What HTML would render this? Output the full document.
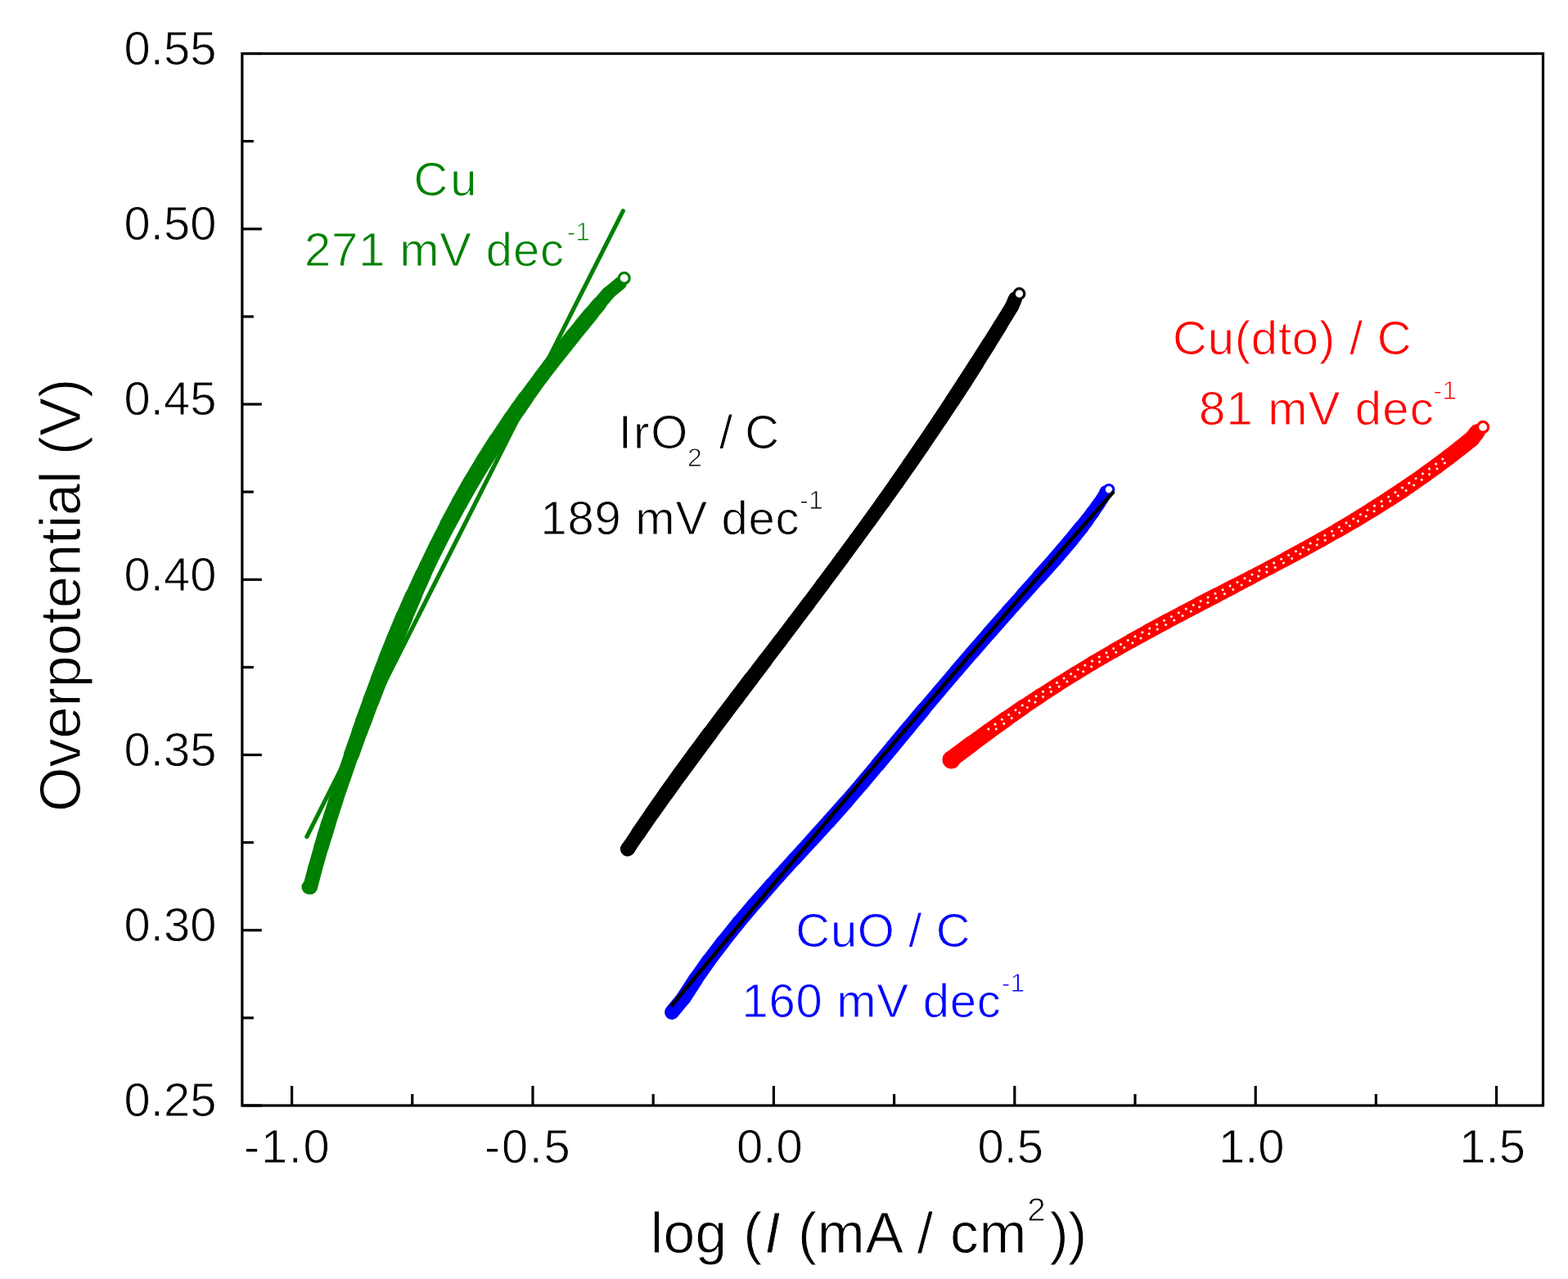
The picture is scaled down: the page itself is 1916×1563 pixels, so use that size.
<!DOCTYPE html>
<html><head><meta charset="utf-8"><style>
html,body{margin:0;padding:0;background:#fff;}
svg{display:block;}
</style></head><body>
<svg width="1916" height="1563" viewBox="0 0 1916 1563">
<rect width="1916" height="1563" fill="#fff"/>
<rect x="295.9" y="65.5" width="1589.6" height="1285.5" fill="none" stroke="#000" stroke-width="3.2"/>
<line x1="356.6" y1="1351.0" x2="356.6" y2="1327.0" stroke="#000" stroke-width="3.2"/>
<line x1="503.8" y1="1351.0" x2="503.8" y2="1337.0" stroke="#000" stroke-width="3.2"/>
<line x1="651.0" y1="1351.0" x2="651.0" y2="1327.0" stroke="#000" stroke-width="3.2"/>
<line x1="798.2" y1="1351.0" x2="798.2" y2="1337.0" stroke="#000" stroke-width="3.2"/>
<line x1="945.4" y1="1351.0" x2="945.4" y2="1327.0" stroke="#000" stroke-width="3.2"/>
<line x1="1092.6" y1="1351.0" x2="1092.6" y2="1337.0" stroke="#000" stroke-width="3.2"/>
<line x1="1239.8" y1="1351.0" x2="1239.8" y2="1327.0" stroke="#000" stroke-width="3.2"/>
<line x1="1387.0" y1="1351.0" x2="1387.0" y2="1337.0" stroke="#000" stroke-width="3.2"/>
<line x1="1534.2" y1="1351.0" x2="1534.2" y2="1327.0" stroke="#000" stroke-width="3.2"/>
<line x1="1681.4" y1="1351.0" x2="1681.4" y2="1337.0" stroke="#000" stroke-width="3.2"/>
<line x1="1828.6" y1="1351.0" x2="1828.6" y2="1327.0" stroke="#000" stroke-width="3.2"/>
<line x1="295.9" y1="1351.0" x2="319.9" y2="1351.0" stroke="#000" stroke-width="3.2"/>
<line x1="295.9" y1="1243.9" x2="309.9" y2="1243.9" stroke="#000" stroke-width="3.2"/>
<line x1="295.9" y1="1136.8" x2="319.9" y2="1136.8" stroke="#000" stroke-width="3.2"/>
<line x1="295.9" y1="1029.6" x2="309.9" y2="1029.6" stroke="#000" stroke-width="3.2"/>
<line x1="295.9" y1="922.5" x2="319.9" y2="922.5" stroke="#000" stroke-width="3.2"/>
<line x1="295.9" y1="815.4" x2="309.9" y2="815.4" stroke="#000" stroke-width="3.2"/>
<line x1="295.9" y1="708.3" x2="319.9" y2="708.3" stroke="#000" stroke-width="3.2"/>
<line x1="295.9" y1="601.1" x2="309.9" y2="601.1" stroke="#000" stroke-width="3.2"/>
<line x1="295.9" y1="494.0" x2="319.9" y2="494.0" stroke="#000" stroke-width="3.2"/>
<line x1="295.9" y1="386.9" x2="309.9" y2="386.9" stroke="#000" stroke-width="3.2"/>
<line x1="295.9" y1="279.8" x2="319.9" y2="279.8" stroke="#000" stroke-width="3.2"/>
<line x1="295.9" y1="172.6" x2="309.9" y2="172.6" stroke="#000" stroke-width="3.2"/>
<line x1="295.9" y1="65.5" x2="319.9" y2="65.5" stroke="#000" stroke-width="3.2"/>
<text x="264.5" y="1364.3" font-size="58" fill="#000" text-anchor="end" font-family="Liberation Sans, Arial, sans-serif" stroke="#fff" stroke-width="0.9"  xml:space="preserve">0.25</text>
<text x="264.5" y="1150.1" font-size="58" fill="#000" text-anchor="end" font-family="Liberation Sans, Arial, sans-serif" stroke="#fff" stroke-width="0.9"  xml:space="preserve">0.30</text>
<text x="264.5" y="935.8" font-size="58" fill="#000" text-anchor="end" font-family="Liberation Sans, Arial, sans-serif" stroke="#fff" stroke-width="0.9"  xml:space="preserve">0.35</text>
<text x="264.5" y="721.6" font-size="58" fill="#000" text-anchor="end" font-family="Liberation Sans, Arial, sans-serif" stroke="#fff" stroke-width="0.9"  xml:space="preserve">0.40</text>
<text x="264.5" y="507.3" font-size="58" fill="#000" text-anchor="end" font-family="Liberation Sans, Arial, sans-serif" stroke="#fff" stroke-width="0.9"  xml:space="preserve">0.45</text>
<text x="264.5" y="293.1" font-size="58" fill="#000" text-anchor="end" font-family="Liberation Sans, Arial, sans-serif" stroke="#fff" stroke-width="0.9"  xml:space="preserve">0.50</text>
<text x="264.5" y="78.8" font-size="58" fill="#000" text-anchor="end" font-family="Liberation Sans, Arial, sans-serif" stroke="#fff" stroke-width="0.9"  xml:space="preserve">0.55</text>
<text x="940.4" y="1421.3" font-size="58" fill="#000" text-anchor="middle" font-family="Liberation Sans, Arial, sans-serif" stroke="#fff" stroke-width="0.9"  xml:space="preserve">0.0</text>
<text x="1234.8" y="1421.3" font-size="58" fill="#000" text-anchor="middle" font-family="Liberation Sans, Arial, sans-serif" stroke="#fff" stroke-width="0.9"  xml:space="preserve">0.5</text>
<text x="1529.2" y="1421.3" font-size="58" fill="#000" text-anchor="middle" font-family="Liberation Sans, Arial, sans-serif" stroke="#fff" stroke-width="0.9"  xml:space="preserve">1.0</text>
<text x="1823.6" y="1421.3" font-size="58" fill="#000" text-anchor="middle" font-family="Liberation Sans, Arial, sans-serif" stroke="#fff" stroke-width="0.9"  xml:space="preserve">1.5</text>
<text x="298.1" y="1421.3" font-size="58" fill="#000" letter-spacing="1.6" font-family="Liberation Sans, Arial, sans-serif" stroke="#fff" stroke-width="0.9"  xml:space="preserve">-1.0</text>
<text x="592.0" y="1421.3" font-size="58" fill="#000" letter-spacing="1.6" font-family="Liberation Sans, Arial, sans-serif" stroke="#fff" stroke-width="0.9"  xml:space="preserve">-0.5</text>
<text x="794.8" y="1530.6" font-size="69.5" fill="#000" letter-spacing="0.35" font-family="Liberation Sans, Arial, sans-serif" stroke="#fff" stroke-width="0.9"  xml:space="preserve">log (</text>
<text x="934.2" y="1530.6" font-size="69.5" fill="#000" font-style="italic" font-family="Liberation Sans, Arial, sans-serif" stroke="#fff" stroke-width="0.9"  xml:space="preserve">I</text>
<text x="974.9" y="1530.6" font-size="69.5" fill="#000" letter-spacing="0.76" font-family="Liberation Sans, Arial, sans-serif" stroke="#fff" stroke-width="0.9"  xml:space="preserve">(mA / cm</text>
<text x="1255.3" y="1492.4" font-size="40.4" fill="#000" font-family="Liberation Sans, Arial, sans-serif" stroke="#fff" stroke-width="0.9"  xml:space="preserve">2</text>
<text x="1282.5" y="1530.6" font-size="69.5" fill="#000" letter-spacing="-0.67" font-family="Liberation Sans, Arial, sans-serif" stroke="#fff" stroke-width="0.9"  xml:space="preserve">))</text>
<text transform="translate(98.3,991.9) rotate(-90)" x="0" y="0" font-size="70" font-family="Liberation Sans, Arial, sans-serif" stroke="#fff" stroke-width="0.9">Overpotential (V)</text>
<text x="505.6" y="238.6" font-size="58" fill="#008000" letter-spacing="2.8" font-family="Liberation Sans, Arial, sans-serif" stroke="#fff" stroke-width="0.9"  xml:space="preserve">Cu</text>
<text x="371.98" y="325.0" font-size="58" fill="#008000" letter-spacing="0.84" font-family="Liberation Sans, Arial, sans-serif" stroke="#fff" stroke-width="0.9"  xml:space="preserve">271 mV dec</text>
<text x="692.71" y="293.5" font-size="32" fill="#008000" font-family="Liberation Sans, Arial, sans-serif" stroke="#fff" stroke-width="0.9"  xml:space="preserve">-1</text>
<text x="755.65" y="548.2" font-size="58" fill="#000" letter-spacing="2.14" font-family="Liberation Sans, Arial, sans-serif" stroke="#fff" stroke-width="0.9"  xml:space="preserve">IrO</text>
<text x="839.9" y="570.4" font-size="32" fill="#000" font-family="Liberation Sans, Arial, sans-serif" stroke="#fff" stroke-width="0.9"  xml:space="preserve">2</text>
<text x="863.2" y="548.2" font-size="58" fill="#000" letter-spacing="-0.4" font-family="Liberation Sans, Arial, sans-serif" stroke="#fff" stroke-width="0.9"  xml:space="preserve"> / C</text>
<text x="660.58" y="653.4" font-size="58" fill="#000" letter-spacing="0.72" font-family="Liberation Sans, Arial, sans-serif" stroke="#fff" stroke-width="0.9"  xml:space="preserve">189 mV dec</text>
<text x="977.31" y="621.7" font-size="32" fill="#000" font-family="Liberation Sans, Arial, sans-serif" stroke="#fff" stroke-width="0.9"  xml:space="preserve">-1</text>
<text x="1432.95" y="433.0" font-size="58" fill="#ff0000" letter-spacing="0.81" font-family="Liberation Sans, Arial, sans-serif" stroke="#fff" stroke-width="0.9"  xml:space="preserve">Cu(dto) / C</text>
<text x="1465.08" y="519.3" font-size="58" fill="#ff0000" letter-spacing="1.17" font-family="Liberation Sans, Arial, sans-serif" stroke="#fff" stroke-width="0.9"  xml:space="preserve">81 mV dec</text>
<text x="1751.51" y="487.7" font-size="32" fill="#ff0000" font-family="Liberation Sans, Arial, sans-serif" stroke="#fff" stroke-width="0.9"  xml:space="preserve">-1</text>
<text x="972.35" y="1157.0" font-size="58" fill="#0000ff" letter-spacing="0.65" font-family="Liberation Sans, Arial, sans-serif" stroke="#fff" stroke-width="0.9"  xml:space="preserve">CuO / C</text>
<text x="906.38" y="1243.3" font-size="58" fill="#0000ff" letter-spacing="0.76" font-family="Liberation Sans, Arial, sans-serif" stroke="#fff" stroke-width="0.9"  xml:space="preserve">160 mV dec</text>
<text x="1223.81" y="1211.7" font-size="32" fill="#0000ff" font-family="Liberation Sans, Arial, sans-serif" stroke="#fff" stroke-width="0.9"  xml:space="preserve">-1</text>
<g stroke="#000" stroke-linecap="round" fill="none"><line x1="1240.5" y1="365.0" x2="1236.5" y2="374.5" stroke-width="17.3"/><line x1="1236.5" y1="374.5" x2="1222.4" y2="397.6" stroke-width="17.2"/><line x1="1222.4" y1="397.6" x2="1208.1" y2="420.6" stroke-width="17.6"/><line x1="1208.1" y1="420.6" x2="1193.6" y2="443.6" stroke-width="17.9"/><line x1="1193.6" y1="443.6" x2="1178.8" y2="466.7" stroke-width="18.3"/><line x1="1178.8" y1="466.7" x2="1163.8" y2="489.7" stroke-width="18.4"/><line x1="1163.8" y1="489.7" x2="1148.6" y2="512.7" stroke-width="18.2"/><line x1="1148.6" y1="512.7" x2="1127.1" y2="544.5" stroke-width="18.1"/><line x1="1127.1" y1="544.5" x2="1111.2" y2="567.6" stroke-width="18.1"/><line x1="1111.2" y1="567.6" x2="1095.2" y2="590.6" stroke-width="17.9"/><line x1="1095.2" y1="590.6" x2="1078.9" y2="613.6" stroke-width="17.6"/><line x1="1078.9" y1="613.6" x2="1062.3" y2="636.7" stroke-width="17.4"/><line x1="1062.3" y1="636.7" x2="1045.5" y2="659.7" stroke-width="17.3"/><line x1="1045.5" y1="659.7" x2="1028.6" y2="682.7" stroke-width="17.4"/><line x1="1028.6" y1="682.7" x2="1005.0" y2="714.5" stroke-width="17.4"/><line x1="1005.0" y1="714.5" x2="987.7" y2="737.6" stroke-width="17.4"/><line x1="987.7" y1="737.6" x2="970.3" y2="760.6" stroke-width="17.5"/><line x1="970.3" y1="760.6" x2="952.9" y2="783.6" stroke-width="17.5"/><line x1="952.9" y1="783.6" x2="935.3" y2="806.7" stroke-width="17.8"/><line x1="935.3" y1="806.7" x2="917.8" y2="829.7" stroke-width="18.2"/><line x1="917.8" y1="829.7" x2="900.4" y2="852.7" stroke-width="18.5"/><line x1="900.4" y1="852.7" x2="885.6" y2="872.2" stroke-width="18.5"/><line x1="885.6" y1="872.2" x2="867.4" y2="896.5" stroke-width="18.7"/><line x1="867.4" y1="896.5" x2="849.3" y2="920.8" stroke-width="19.0"/><line x1="849.3" y1="920.8" x2="831.5" y2="945.1" stroke-width="19.0"/><line x1="831.5" y1="945.1" x2="814.0" y2="969.4" stroke-width="18.8"/><line x1="814.0" y1="969.4" x2="796.9" y2="993.7" stroke-width="18.5"/><line x1="796.9" y1="993.7" x2="780.2" y2="1018.0" stroke-width="18.1"/><line x1="780.2" y1="1018.0" x2="768.0" y2="1036.2" stroke-width="17.6"/><line x1="768.0" y1="1036.2" x2="767.0" y2="1037.5" stroke-width="18.1"/></g>
<circle cx="1245.5" cy="359" r="6.3" fill="#fff" stroke="#000" stroke-width="3.2"/>
<g stroke="#0000ff" stroke-linecap="round" fill="none"><line x1="1351.0" y1="601.0" x2="1349.5" y2="605.2" stroke-width="15.4"/><line x1="1349.5" y1="605.2" x2="1342.8" y2="615.4" stroke-width="15.7"/><line x1="1342.8" y1="615.4" x2="1335.7" y2="625.5" stroke-width="16.1"/><line x1="1335.7" y1="625.5" x2="1328.2" y2="635.7" stroke-width="16.6"/><line x1="1328.2" y1="635.7" x2="1321.6" y2="644.2" stroke-width="17.3"/><line x1="1321.6" y1="644.2" x2="1307.9" y2="661.1" stroke-width="18.0"/><line x1="1307.9" y1="661.1" x2="1289.3" y2="682.9" stroke-width="18.2"/><line x1="1289.3" y1="682.9" x2="1270.0" y2="704.6" stroke-width="18.1"/><line x1="1270.0" y1="704.6" x2="1250.5" y2="726.4" stroke-width="17.5"/><line x1="1250.5" y1="726.4" x2="1231.2" y2="748.1" stroke-width="17.3"/><line x1="1231.2" y1="748.1" x2="1208.0" y2="774.5" stroke-width="17.3"/><line x1="1208.0" y1="774.5" x2="1187.9" y2="797.6" stroke-width="17.1"/><line x1="1187.9" y1="797.6" x2="1168.1" y2="820.6" stroke-width="16.9"/><line x1="1168.1" y1="820.6" x2="1148.5" y2="843.6" stroke-width="16.7"/><line x1="1148.5" y1="843.6" x2="1129.0" y2="866.7" stroke-width="16.8"/><line x1="1129.0" y1="866.7" x2="1109.8" y2="889.7" stroke-width="17.4"/><line x1="1109.8" y1="889.7" x2="1090.7" y2="912.7" stroke-width="17.7"/><line x1="1090.7" y1="912.7" x2="1072.6" y2="934.5" stroke-width="17.7"/><line x1="1072.6" y1="934.5" x2="1053.2" y2="957.6" stroke-width="17.4"/><line x1="1053.2" y1="957.6" x2="1033.4" y2="980.6" stroke-width="17.2"/><line x1="1033.4" y1="980.6" x2="1012.9" y2="1003.6" stroke-width="17.4"/><line x1="1012.9" y1="1003.6" x2="991.9" y2="1026.7" stroke-width="17.3"/><line x1="991.9" y1="1026.7" x2="970.9" y2="1049.7" stroke-width="16.9"/><line x1="970.9" y1="1049.7" x2="950.0" y2="1072.7" stroke-width="16.7"/><line x1="950.0" y1="1072.7" x2="942.2" y2="1081.5" stroke-width="16.8"/><line x1="942.2" y1="1081.5" x2="921.9" y2="1104.6" stroke-width="17.0"/><line x1="921.9" y1="1104.6" x2="902.4" y2="1127.6" stroke-width="17.0"/><line x1="902.4" y1="1127.6" x2="883.9" y2="1150.6" stroke-width="17.2"/><line x1="883.9" y1="1150.6" x2="866.3" y2="1173.7" stroke-width="17.5"/><line x1="866.3" y1="1173.7" x2="850.1" y2="1196.7" stroke-width="17.8"/><line x1="850.1" y1="1196.7" x2="835.2" y2="1219.8" stroke-width="18.3"/><line x1="835.2" y1="1219.8" x2="821.0" y2="1237.0" stroke-width="17.9"/></g>
<circle cx="1355" cy="598.3" r="5.8" fill="#fff" stroke="#0000ff" stroke-width="3.2"/>
<polyline points="1359.7,602.0 1317.0,650.2 1274.5,698.4 1232.2,746.6 1190.2,794.8 1148.3,843.0 1106.7,891.2 1065.3,939.3 1024.1,987.5 983.1,1035.7 942.3,1083.9 901.7,1132.1 861.3,1180.3 821.2,1228.5" fill="none" stroke="#000" stroke-width="4.6" stroke-linecap="round" stroke-linejoin="round"/>
<g stroke="#ff0000" stroke-linecap="round" fill="none"><line x1="1162.0" y1="928.0" x2="1187.2" y2="909.2" stroke-width="20.5"/><line x1="1187.2" y1="909.2" x2="1208.3" y2="893.7" stroke-width="19.9"/><line x1="1208.3" y1="893.7" x2="1229.4" y2="878.7" stroke-width="19.6"/><line x1="1229.4" y1="878.7" x2="1250.5" y2="864.1" stroke-width="19.0"/><line x1="1250.5" y1="864.1" x2="1271.6" y2="850.1" stroke-width="18.3"/><line x1="1271.6" y1="850.1" x2="1292.8" y2="836.4" stroke-width="17.8"/><line x1="1292.8" y1="836.4" x2="1313.9" y2="823.2" stroke-width="17.6"/><line x1="1313.9" y1="823.2" x2="1335.0" y2="810.4" stroke-width="17.6"/><line x1="1335.0" y1="810.4" x2="1361.3" y2="795.1" stroke-width="17.6"/><line x1="1361.3" y1="795.1" x2="1382.2" y2="783.2" stroke-width="17.9"/><line x1="1382.2" y1="783.2" x2="1403.1" y2="771.7" stroke-width="18.3"/><line x1="1403.1" y1="771.7" x2="1423.9" y2="760.4" stroke-width="18.4"/><line x1="1423.9" y1="760.4" x2="1444.8" y2="749.3" stroke-width="18.3"/><line x1="1444.8" y1="749.3" x2="1465.7" y2="738.3" stroke-width="18.4"/><line x1="1465.7" y1="738.3" x2="1486.6" y2="727.5" stroke-width="18.5"/><line x1="1486.6" y1="727.5" x2="1507.5" y2="716.6" stroke-width="18.2"/><line x1="1507.5" y1="716.6" x2="1528.3" y2="705.8" stroke-width="17.8"/><line x1="1528.3" y1="705.8" x2="1551.3" y2="693.8" stroke-width="17.5"/><line x1="1551.3" y1="693.8" x2="1572.2" y2="682.7" stroke-width="17.5"/><line x1="1572.2" y1="682.7" x2="1593.1" y2="671.4" stroke-width="18.0"/><line x1="1593.1" y1="671.4" x2="1613.9" y2="659.9" stroke-width="18.1"/><line x1="1613.9" y1="659.9" x2="1634.8" y2="648.0" stroke-width="18.1"/><line x1="1634.8" y1="648.0" x2="1655.7" y2="635.7" stroke-width="18.5"/><line x1="1655.7" y1="635.7" x2="1676.6" y2="622.9" stroke-width="18.9"/><line x1="1676.6" y1="622.9" x2="1697.5" y2="609.6" stroke-width="19.3"/><line x1="1697.5" y1="609.6" x2="1714.1" y2="598.7" stroke-width="19.6"/><line x1="1714.1" y1="598.7" x2="1728.1" y2="589.1" stroke-width="19.5"/><line x1="1728.1" y1="589.1" x2="1742.2" y2="579.2" stroke-width="19.4"/><line x1="1742.2" y1="579.2" x2="1756.3" y2="569.0" stroke-width="19.5"/><line x1="1756.3" y1="569.0" x2="1770.4" y2="558.4" stroke-width="19.7"/><line x1="1770.4" y1="558.4" x2="1784.4" y2="547.5" stroke-width="19.6"/><line x1="1784.4" y1="547.5" x2="1798.5" y2="536.3" stroke-width="19.7"/><line x1="1798.5" y1="536.3" x2="1805.0" y2="528.0" stroke-width="19.5"/></g>
<circle cx="1162.5" cy="928.5" r="11" fill="#ff0000"/>
<circle cx="1812.1" cy="521.9" r="6.5" fill="#fff" stroke="#ff0000" stroke-width="3.2"/>
<polyline points="1206.8,891.7 1228.0,876.6 1249.1,862.1 1270.2,848.0 1291.5,834.3 1312.6,821.1 1333.7,808.3 1360.1,792.9 1381.0,781.0 1401.9,769.5 1422.7,758.2 1443.6,747.1 1464.5,736.1 1485.4,725.2 1506.3,714.4 1527.1,703.6 1550.1,691.6 1571.0,680.5 1591.9,669.2 1612.7,657.7 1633.5,645.8 1654.4,633.5 1675.3,620.8 1696.1,607.5 1712.7,596.6 1726.7,587.1 1740.7,577.2 1754.8,566.9 1768.9,556.4" fill="none" stroke="#fff" stroke-width="2.6" stroke-dasharray="2.6 7.5" stroke-dashoffset="0"/>
<polyline points="1210.0,896.2 1231.1,881.2 1252.2,866.6 1273.2,852.6 1294.4,838.9 1315.5,825.8 1336.5,813.0 1362.8,797.7 1383.7,785.8 1404.5,774.3 1425.3,763.0 1446.2,751.9 1467.1,741.0 1488.0,730.1 1508.9,719.3 1529.7,708.5 1552.7,696.4 1573.6,685.3 1594.5,674.0 1615.4,662.5 1636.3,650.6 1657.2,638.2 1678.2,625.4 1699.1,612.1 1715.8,601.1 1729.8,591.6 1743.9,581.6 1758.1,571.4 1772.2,560.8" fill="none" stroke="#fff" stroke-width="2.6" stroke-dasharray="2.6 9" stroke-dashoffset="4"/>
<g stroke="#008000" stroke-linecap="round" fill="none"><line x1="758.0" y1="346.0" x2="743.2" y2="358.4" stroke-width="16.0"/><line x1="743.2" y1="358.4" x2="732.4" y2="371.2" stroke-width="16.8"/><line x1="732.4" y1="371.2" x2="721.8" y2="384.0" stroke-width="18.1"/><line x1="721.8" y1="384.0" x2="711.3" y2="396.8" stroke-width="18.8"/><line x1="711.3" y1="396.8" x2="700.9" y2="409.6" stroke-width="18.7"/><line x1="700.9" y1="409.6" x2="690.7" y2="422.4" stroke-width="18.9"/><line x1="690.7" y1="422.4" x2="680.6" y2="435.2" stroke-width="18.8"/><line x1="680.6" y1="435.2" x2="670.8" y2="448.0" stroke-width="18.5"/><line x1="670.8" y1="448.0" x2="661.1" y2="460.8" stroke-width="18.3"/><line x1="661.1" y1="460.8" x2="651.7" y2="473.6" stroke-width="18.1"/><line x1="651.7" y1="473.6" x2="642.5" y2="486.3" stroke-width="18.4"/><line x1="642.5" y1="486.3" x2="633.5" y2="499.1" stroke-width="19.3"/><line x1="633.5" y1="499.1" x2="624.6" y2="511.9" stroke-width="19.4"/><line x1="624.6" y1="511.9" x2="607.0" y2="538.4" stroke-width="19.7"/><line x1="607.0" y1="538.4" x2="590.9" y2="564.0" stroke-width="20.3"/><line x1="590.9" y1="564.0" x2="575.5" y2="589.6" stroke-width="20.2"/><line x1="575.5" y1="589.6" x2="561.0" y2="615.2" stroke-width="20.2"/><line x1="561.0" y1="615.2" x2="547.2" y2="640.8" stroke-width="19.9"/><line x1="547.2" y1="640.8" x2="534.2" y2="666.3" stroke-width="19.4"/><line x1="534.2" y1="666.3" x2="521.8" y2="691.9" stroke-width="19.3"/><line x1="521.8" y1="691.9" x2="516.7" y2="702.8" stroke-width="19.3"/><line x1="516.7" y1="702.8" x2="505.1" y2="728.4" stroke-width="19.9"/><line x1="505.1" y1="728.4" x2="494.0" y2="754.0" stroke-width="20.9"/><line x1="494.0" y1="754.0" x2="483.3" y2="779.6" stroke-width="21.4"/><line x1="483.3" y1="779.6" x2="473.0" y2="805.2" stroke-width="21.4"/><line x1="473.0" y1="805.2" x2="463.1" y2="830.8" stroke-width="21.1"/><line x1="463.1" y1="830.8" x2="453.4" y2="856.3" stroke-width="20.6"/><line x1="453.4" y1="856.3" x2="443.9" y2="881.9" stroke-width="20.0"/><line x1="443.9" y1="881.9" x2="439.5" y2="894.1" stroke-width="19.6"/><line x1="439.5" y1="894.1" x2="429.5" y2="922.2" stroke-width="19.0"/><line x1="429.5" y1="922.2" x2="419.8" y2="950.4" stroke-width="18.0"/><line x1="419.8" y1="950.4" x2="410.3" y2="978.5" stroke-width="17.7"/><line x1="410.3" y1="978.5" x2="401.2" y2="1006.7" stroke-width="18.0"/><line x1="401.2" y1="1006.7" x2="396.9" y2="1020.7" stroke-width="18.4"/><line x1="396.9" y1="1020.7" x2="392.6" y2="1034.8" stroke-width="18.3"/><line x1="392.6" y1="1034.8" x2="384.6" y2="1062.9" stroke-width="17.9"/><line x1="384.6" y1="1062.9" x2="379.1" y2="1084.0" stroke-width="18.0"/><line x1="379.1" y1="1084.0" x2="377.5" y2="1084.0" stroke-width="18.0"/></g>
<circle cx="762.7" cy="339.9" r="6.5" fill="#fff" stroke="#008000" stroke-width="3.2"/>
<polyline points="374.9,1022.5 761.4,257.7" fill="none" stroke="#008000" stroke-width="5.2" stroke-linecap="round" stroke-linejoin="round"/>
</svg>
</body></html>
